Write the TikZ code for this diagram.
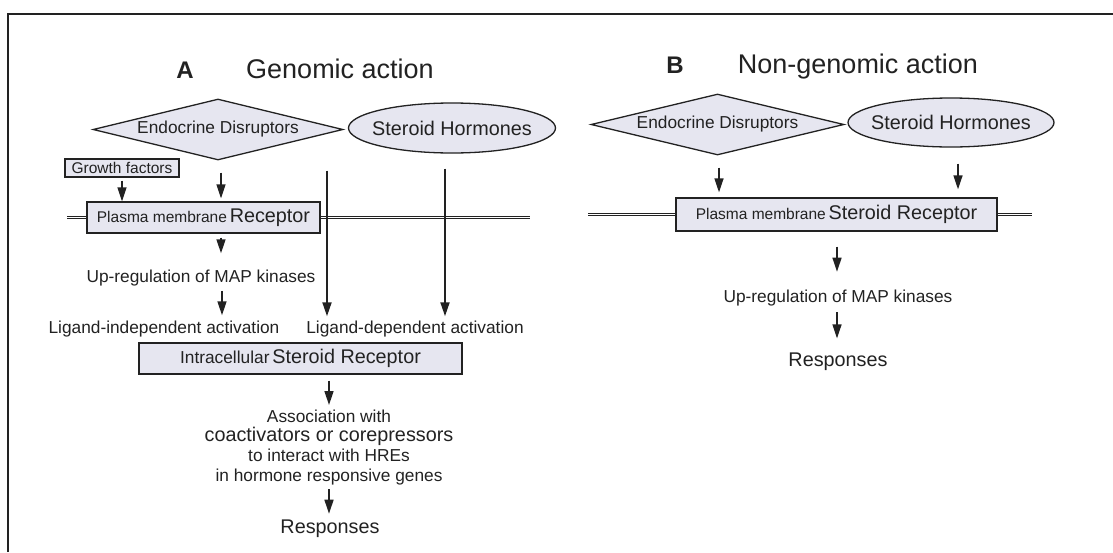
\documentclass[tikz,border=0pt]{standalone}
\usepackage{fontspec}
\setmainfont{Liberation Sans}
\usetikzlibrary{shapes.geometric,arrows.meta}
\definecolor{ink}{HTML}{222222}
\definecolor{shade}{HTML}{E6E6F0}
\newcommand\txsmall{\fontsize{15.5pt}{18pt}\selectfont}
\newcommand\txmid{\fontsize{17.3pt}{19.7pt}\selectfont}
\newcommand\txbig{\fontsize{19.8pt}{19.7pt}\selectfont}
\newcommand\txtitle{\fontsize{27pt}{32pt}\selectfont}
\newcommand\txletter{\fontsize{24pt}{28pt}\selectfont\bfseries}

\begin{document}
\begin{tikzpicture}[x=1pt, y=-1pt, ink, text=ink,
  shaded/.style={draw=ink, fill=shade, line width=1.3pt, inner sep=0pt},
  boxnode/.style={shaded, rectangle},
  dia/.style={shaded, diamond},
  oval/.style={shaded, ellipse},
  lbl/.style={inner sep=0pt, anchor=base},
  arr/.style={line width=1.5pt, -{Triangle[length=14pt,width=9pt]}},
  feed/.style={line width=1.9pt, -{Triangle[length=14pt,width=9pt]}},
  membrane/.style={draw=ink, line width=0.9pt, double=white, double distance=1.4pt},
]
\useasboundingbox (0,0) rectangle (1113,552);
\fill[white] (0,0) rectangle (1113,552);

% outer frame (left and top edges)
\draw[line width=2pt, draw=ink] (8,552) -- (8,13.5) -- (1113,13.5);

% panel headings
\node[lbl, font=\txletter] (letA) at (185,78) {A};
\node[lbl, font=\txtitle] (titA) at (340,78) {Genomic action};
\node[lbl, font=\txletter] (letB) at (675,73) {B};
\node[lbl, font=\txtitle] (titB) at (858,73) {Non-genomic action};

% ---------- A: genomic action ----------
\node[dia, minimum width=250pt, minimum height=61pt,
      label={[font=\txmid]center:Endocrine Disruptors}] (edA) at (218,129.5) {};
\node[oval, minimum width=207pt, minimum height=50pt,
      label={[font=\txbig]center:Steroid Hormones}] (shA) at (452,128) {};
\node[boxnode, minimum width=114pt, minimum height=18pt, font=\txsmall] (gfA) at (122,168) {Growth factors};
\node[boxnode, minimum width=233pt, minimum height=31pt] (pmA) at (203.5,217.5)
  {{\txsmall Plasma membrane} {\txbig Receptor}};
\node[lbl, font=\txmid] (upA) at (201,282) {Up-regulation of MAP kinases};
\node[lbl, font=\txmid] (liA) at (164,333) {Ligand-independent activation};
\node[lbl, font=\txmid] (ldA) at (415,333) {Ligand-dependent activation};
\node[boxnode, minimum width=323pt, minimum height=31pt] (isrA) at (300.5,358.5)
  {{\txmid Intracellular} {\txbig Steroid Receptor}};
\node[inner sep=0pt, anchor=north, align=center, font=\txmid] (assoc) at (329,409.5)
  {Association with\\{\txbig coactivators or corepressors}\\to interact with HREs\\in hormone responsive genes};
\node[lbl, font=\txbig] (respA) at (330,533) {Responses};

% cell membrane
\coordinate (memA1) at (67,217.5);
\coordinate (memA2) at (530,217.5);
\draw[membrane, shorten >=0.65pt] (memA1) -- (pmA.west);
\draw[membrane, shorten <=0.65pt] (pmA.east) -- (memA2);

% signalling arrows
\draw[arr] ([yshift=-3pt]gfA.south) -- (gfA.south |- pmA.north);
\draw[arr] ([xshift=3pt,yshift=-12pt]edA.south) -- ([xshift=17.5pt,yshift=3pt]pmA.north);
\draw[arr] ([xshift=17.5pt,yshift=-4pt]pmA.south) -- ([xshift=20pt,yshift=16pt]upA.north);
\draw[arr] ([xshift=21pt,yshift=-5pt]upA.south) -- ([xshift=58pt,yshift=5pt]liA.north);
\draw[feed] ([xshift=109pt,yshift=-10pt]edA.south) -- ([xshift=-88pt,yshift=4pt]ldA.north);
\draw[feed] ([xshift=-7pt,yshift=-15pt]shA.south) -- ([xshift=30pt,yshift=4pt]ldA.north);
\draw[arr] ([xshift=28.5pt,yshift=-6pt]isrA.south) -- ([yshift=4.5pt]assoc.north);
\draw[arr] ([yshift=-4pt]assoc.south) -- ([xshift=-1pt,yshift=5.5pt]respA.north);

% ---------- B: non-genomic action ----------
\node[dia, minimum width=253pt, minimum height=61pt,
      label={[font=\txmid]center:Endocrine Disruptors}] (edB) at (717.5,124.5) {};
\node[oval, minimum width=206pt, minimum height=49pt,
      label={[font=\txbig]center:Steroid Hormones}] (shB) at (951,122.5) {};
\node[boxnode, minimum width=321pt, minimum height=33pt] (pmB) at (836.5,214.5)
  {{\txsmall Plasma membrane} {\txbig Steroid Receptor}};
\node[lbl, font=\txmid] (upB) at (838,302.7) {Up-regulation of MAP kinases};
\node[lbl, font=\txbig] (respB) at (838,366) {Responses};

\coordinate (memB1) at (588,214.5);
\coordinate (memB2) at (1032,214.5);
\draw[membrane, shorten >=0.65pt] (memB1) -- (pmB.west);
\draw[membrane, shorten <=0.65pt] (pmB.east) -- (memB2);

\draw[arr] ([xshift=1.5pt,yshift=-12pt]edB.south) -- ([xshift=-117.5pt,yshift=5pt]pmB.north);
\draw[arr] ([xshift=7pt,yshift=-16pt]shB.south) -- ([xshift=121.5pt,yshift=8pt]pmB.north);
\draw[arr] ([xshift=0.5pt,yshift=-15pt]pmB.south) -- ([xshift=-1pt,yshift=18.3pt]upB.north);
\draw[arr] ([xshift=-1pt,yshift=-6pt]upB.south) -- ([xshift=-1pt,yshift=13.8pt]respB.north);
\end{tikzpicture}
\end{document}
